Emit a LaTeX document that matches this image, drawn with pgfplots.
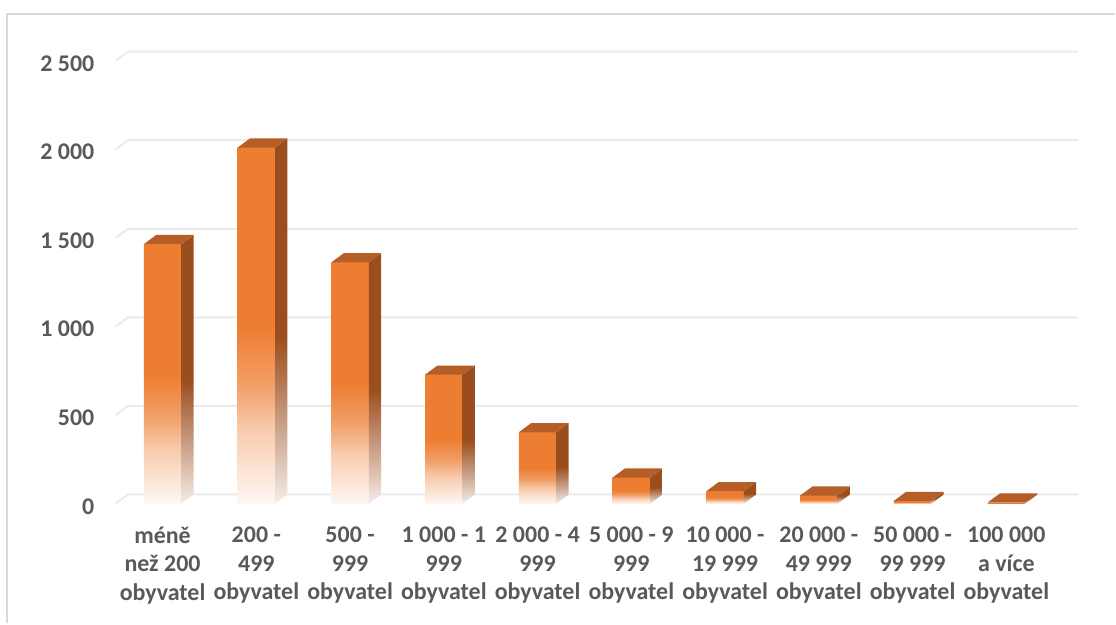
\documentclass[border=0pt]{standalone}
\usepackage{fontspec}
\setmainfont{Carlito}
\usepackage{pgfplots}
\usepackage{pgfplotstable}
\pgfplotsset{compat=1.18}

\definecolor{barorange}{HTML}{ED7D31}
\definecolor{bartop}{HTML}{B55E28}
\definecolor{barside}{HTML}{9A4D1D}
\definecolor{gridgray}{HTML}{EBEBEB}
\definecolor{framegray}{HTML}{D9D9D9}
\definecolor{labelgray}{HTML}{595959}
\colorlet{front0}{white!94!barorange}
\colorlet{front1}{white!62!barorange}
\colorlet{front2}{white!25!barorange}
\colorlet{side0}{white!90!barside}
\colorlet{side1}{white!50!barside}

\pgfdeclareverticalshading{frontfade}{100bp}{color(0bp)=(front0); color(25bp)=(front0); color(35bp)=(front1); color(42bp)=(front2); color(50bp)=(barorange); color(100bp)=(barorange)}
\pgfdeclareverticalshading{sidefade}{100bp}{color(0bp)=(side0); color(25bp)=(side0); color(35bp)=(side1); color(48bp)=(barside); color(100bp)=(barside)}

% pocet obci podle velikosti
\pgfplotstableread{
x y
0 1465
1 2010
2 1362
3 728
4 403
5 147
6 70
7 45
8 15
9 6
}\obce

\begin{document}
\begin{tikzpicture}
\begin{axis}[
    x=47pt, y=0.0888pt,
    xmin=-0.5, xmax=9.5,
    ymin=0, ymax=2500,
    clip=false,
    axis line style={draw=none},
    major tick style={draw=none},
    ytick={0,500,1000,1500,2000,2500},
    yticklabels={0,500,1 000,1 500,2 000,2 500},
    xtick={0,...,9},
    xticklabels={m\'en\v{e}\\ne\v{z} 200\\obyvatel, 200 -\\499\\obyvatel, 500 -\\999\\obyvatel,
        1 000 - 1\\999\\obyvatel, 2 000 - 4\\999\\obyvatel, 5 000 - 9\\999\\obyvatel,
        10 000 -\\19 999\\obyvatel, 20 000 -\\49 999\\obyvatel, 50 000 -\\99 999\\obyvatel,
        100 000\\a v\'{\i}ce\\obyvatel},
    yticklabel style={font=\bfseries\fontsize{12}{14}\selectfont, text=labelgray,
        inner sep=0pt, anchor=east, xshift=-10.5pt, yshift=-1.3pt},
    xticklabel style={font=\bfseries\fontsize{12}{14.25}\selectfont, text=labelgray,
        align=center, inner sep=0pt, anchor=north, yshift=-11.5pt,
        execute at begin node={\rule{0pt}{11pt}}},
]

% mrizka s 3D nabehem vlevo
\draw[gridgray, line width=1pt] (axis cs:-0.5,0) -- ++(6.2pt,4.6pt) -- ([xshift=12.5pt,yshift=4.6pt]axis cs:9.5,0);
\draw[gridgray, line width=1pt] (axis cs:-0.5,500) -- ++(6.2pt,4.6pt) -- ([xshift=12.5pt,yshift=4.6pt]axis cs:9.5,500);
\draw[gridgray, line width=1pt] (axis cs:-0.5,1000) -- ++(6.2pt,4.6pt) -- ([xshift=12.5pt,yshift=4.6pt]axis cs:9.5,1000);
\draw[gridgray, line width=1pt] (axis cs:-0.5,1500) -- ++(6.2pt,4.6pt) -- ([xshift=12.5pt,yshift=4.6pt]axis cs:9.5,1500);
\draw[gridgray, line width=1pt] (axis cs:-0.5,2000) -- ++(6.2pt,4.6pt) -- ([xshift=12.5pt,yshift=4.6pt]axis cs:9.5,2000);
\draw[gridgray, line width=1pt] (axis cs:-0.5,2500) -- ++(6.2pt,4.6pt) -- ([xshift=12.5pt,yshift=4.6pt]axis cs:9.5,2500);

% sloupce: predni, bocni a horni stena, kazdy zvlast stinovany
\addplot[scatter, only marks, mark=*, mark size=0pt,
    visualization depends on={rawy \as \barval},
    scatter/@pre marker code/.code={%
        \pgfmathsetmacro\barh{\barval*0.0888}%
        \shade[draw=none, shading=frontfade] (-9.4pt,0pt) rectangle ({9.4pt},{-\barh pt});
        \shade[draw=none, shading=sidefade] (9.4pt,0pt) -- ({9.4pt},{-\barh pt}) -- ({15.6pt},{4.6pt-\barh pt}) -- (15.6pt,4.6pt) -- cycle;
        \fill[draw=none, bartop] (-9.4pt,0pt) -- (9.4pt,0pt) -- (15.6pt,4.6pt) -- (-3.2pt,4.6pt) -- cycle;
        \begin{scope}[opacity=0]%
    },
    scatter/@post marker code/.code={\end{scope}},
] table {\obce};

\end{axis}
% ramecek grafu
\draw[framegray, line width=1pt] (-54.5pt,-60pt) -- (-54.5pt,245.5pt) -- (501pt,245.5pt);
\path[use as bounding box] (-58pt,-59.5pt) rectangle (500pt,252.5pt);
\end{tikzpicture}
\end{document}
